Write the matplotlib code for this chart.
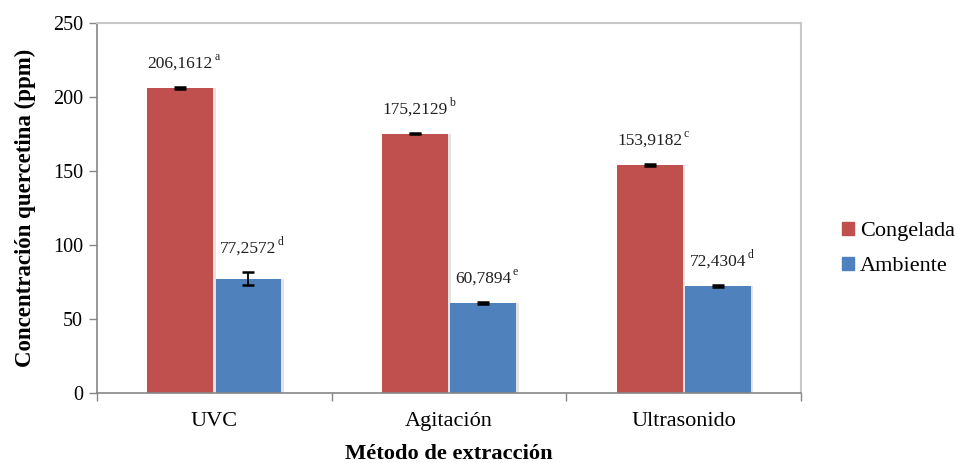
import numpy as np
import matplotlib.pyplot as plt
from matplotlib.patches import Patch

plt.rcParams['font.family'] = ['Liberation Serif', 'DejaVu Serif']

metodos = ['UVC', 'Agitación', 'Ultrasonido']
congelada = [206.1612, 175.2129, 153.9182]
ambiente = [77.2572, 60.7894, 72.4304]
err_congelada = [0.6, 0.5, 0.6]
err_ambiente = [4.6, 0.5, 0.5]
letras_congelada = ['a', 'b', 'c']
letras_ambiente = ['d', 'e', 'd']

c_rojo = '#C0504D'
c_azul = '#4F81BD'

fig = plt.figure(figsize=(9.57, 4.63), dpi=100)
ax = fig.add_axes([0.1014, 0.1512, 0.7356, 0.7991])

x = np.arange(len(metodos))
w = 0.28
off = 0.145

# sombra suave detras de las barras
for dx in (0.006, 0.012):
    ax.bar(x - off + dx, congelada, w, color='#e4e4e4', zorder=1, linewidth=0)
    ax.bar(x + off + dx, ambiente, w, color='#e4e4e4', zorder=1, linewidth=0)

ax.bar(x - off, congelada, w, color=c_rojo, zorder=2, linewidth=0)
ax.bar(x + off, ambiente, w, color=c_azul, zorder=2, linewidth=0)
ax.errorbar(x - off, congelada, yerr=err_congelada, fmt='none', ecolor='black',
            elinewidth=1.3, capsize=4.5, capthick=1.8, zorder=3)
ax.errorbar(x + off, ambiente, yerr=err_ambiente, fmt='none', ecolor='black',
            elinewidth=1.3, capsize=4.5, capthick=1.8, zorder=3)


def etiqueta(xp, val, err, letra):
    txt = ax.annotate(f'{val:.4f}'.replace('.', ','), xy=(xp, val + err),
                      xytext=(0, 11), textcoords='offset points',
                      ha='center', va='bottom', fontsize=12.5, color='#202020')
    ax.annotate(letra, xy=(1, 1), xycoords=txt, xytext=(1, -1),
                textcoords='offset points', ha='left', va='center',
                fontsize=8.5, color='#202020')


for i in range(len(metodos)):
    etiqueta(x[i] - off, congelada[i], err_congelada[i], letras_congelada[i])
    etiqueta(x[i] + off, ambiente[i], err_ambiente[i], letras_ambiente[i])

ax.set_xlim(-0.5, 2.5)
ax.set_ylim(0, 250)
ax.set_yticks(np.arange(0, 251, 50))
ax.set_xticks(x)
ax.set_xticklabels(metodos)
ax.set_xticks([-0.5, 0.5, 1.5, 2.5], minor=True)
ax.tick_params(axis='x', which='major', length=0, pad=14, labelsize=16)
ax.tick_params(axis='x', which='minor', length=6, color='#868686', width=1)
ax.tick_params(axis='y', length=6, color='#868686', width=1, labelsize=14.5, pad=4)

for s in ['left', 'bottom']:
    ax.spines[s].set_color('#868686')
    ax.spines[s].set_linewidth(1.2)
for s in ['top', 'right']:
    ax.spines[s].set_color('#c8c8c8')
    ax.spines[s].set_linewidth(1.5)

ax.set_ylabel('Concentración quercetina (ppm)', fontsize=16.5, fontweight='bold', labelpad=12)
ax.set_xlabel('Método de extracción', fontsize=16.2, fontweight='bold', labelpad=9)

handles = [Patch(color=c_rojo), Patch(color=c_azul)]
leg = ax.legend(handles, ['Congelada', 'Ambiente'], loc='center left',
                bbox_to_anchor=(0.871, 0.462), bbox_transform=fig.transFigure,
                frameon=False, fontsize=16, borderaxespad=0,
                handlelength=0.5, handleheight=0.5, handletextpad=0.3, labelspacing=0.7)
for t in leg.get_texts():
    t.set_fontfamily('Liberation Serif')

fig.savefig('out.png', dpi=100)
